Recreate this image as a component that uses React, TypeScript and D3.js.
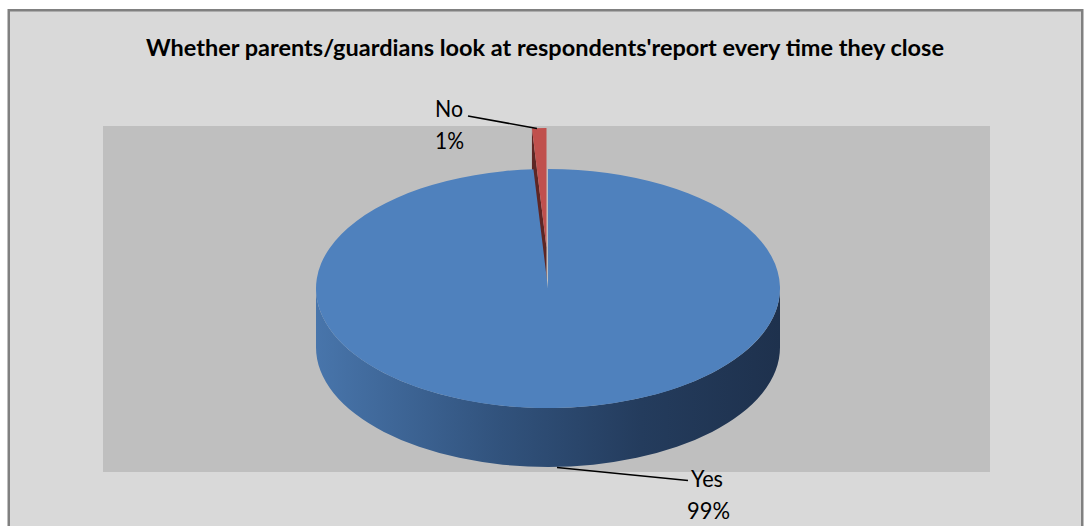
import React from "react";
import * as d3 from "d3";

const categories = ["Yes", "No"];
const values = [99, 1];
const percentLabels = ["99%", "1%"];
const title = "Whether parents/guardians look at respondents'report every time they close";

const W = 1084;
const H = 526;
const cx = 548;
const cy = 288.5;
const rx = 232;
const ry = 119.5;
const depth = 59;

const topColors = ["#4f81bd", "#c0504d"];
const radialSideColors = ["#2f5078", "#5e2624"];

function pt(a: number, dx = 0, dy = 0): [number, number] {
  return [cx + dx + rx * Math.sin(a), cy + dy - ry * Math.cos(a)];
}

function topPath(a0: number, a1: number, dx: number, dy: number) {
  const [x0, y0] = pt(a0, dx, dy);
  const [x1, y1] = pt(a1, dx, dy);
  const large = a1 - a0 > Math.PI ? 1 : 0;
  return `M${cx + dx},${cy + dy}L${x0},${y0}A${rx},${ry} 0 ${large} 1 ${x1},${y1}Z`;
}

function sidePath(a0: number, a1: number, dx: number, dy: number) {
  const s = Math.max(a0, Math.PI / 2);
  const e = Math.min(a1, (3 * Math.PI) / 2);
  if (e <= s) return null;
  const [x0, y0] = pt(s, dx, dy);
  const [x1, y1] = pt(e, dx, dy);
  const large = e - s > Math.PI ? 1 : 0;
  return `M${x0},${y0}A${rx},${ry} 0 ${large} 1 ${x1},${y1}L${x1},${y1 + depth}A${rx},${ry} 0 ${large} 0 ${x0},${y0 + depth}Z`;
}

function radialPath(a: number, dx: number, dy: number) {
  const [x, y] = pt(a, dx, dy);
  return `M${cx + dx},${cy + dy}L${x},${y}L${x},${y + depth}L${cx + dx},${cy + dy + depth}Z`;
}

export default function App() {
  const pie = d3
    .pie<number>()
    .sort(null)
    .startAngle(0)
    .endAngle(2 * Math.PI)(values);

  const explode = [
    [0, 0],
    [-1.5, -41],
  ];

  // draw back slices first (No is at the back)
  const order = [1, 0];

  return (
    <svg width={W} height={H} style={{ display: "block", position: "absolute", left: 0, top: 0 }}>
      <defs>
        <linearGradient id="sideGrad" gradientUnits="userSpaceOnUse" x1={cx - rx} x2={cx + rx} y1={0} y2={0}>
          <stop offset="0" stopColor="#4875ab" />
          <stop offset="0.4" stopColor="#31527c" />
          <stop offset="0.7" stopColor="#243c5d" />
          <stop offset="1" stopColor="#1e314d" />
        </linearGradient>
      </defs>
      <rect x={0} y={0} width={W} height={H} fill="#ffffff" />
      <rect x={8.75} y={10.25} width={1073.5} height={530} fill="#d9d9d9" stroke="#808080" strokeWidth={2.5} />
      <rect x={103} y={126} width={887} height={346} fill="#bfbfbf" />
      <text
        x={545}
        y={55.5}
        textAnchor="middle"
        fontFamily="Lato, 'Open Sans', sans-serif"
        fontWeight="bold"
        fontSize={22}
        textLength={798}
        lengthAdjust="spacingAndGlyphs"
        fill="#000"
      >
        {title}
      </text>
      {order.map((i) => {
        const d = pie[i];
        const [dx, dy] = explode[i];
        const side = sidePath(d.startAngle, d.endAngle, dx, dy);
        return (
          <g key={categories[i]}>
            {i === 1 && <path d={radialPath(d.startAngle, dx, dy)} fill={radialSideColors[i]} />}
            {side && <path d={side} fill="url(#sideGrad)" />}
            <path d={topPath(d.startAngle, d.endAngle, dx, dy)} fill={topColors[i]} />
          </g>
        );
      })}
      {/* leader lines */}
      <line x1={468} y1={116} x2={537} y2={128.5} stroke="#000" strokeWidth={1.6} />
      <line x1={557} y1={467.5} x2={688} y2={480.5} stroke="#000" strokeWidth={1.6} />
      {/* labels */}
      <g fontFamily="Lato, 'Open Sans', sans-serif" fontSize={23} fill="#000" textAnchor="middle">
        <text x={449} y={116.7} textLength={28} lengthAdjust="spacingAndGlyphs">{categories[1]}</text>
        <text x={449.5} y={149} textLength={29} lengthAdjust="spacingAndGlyphs">{percentLabels[1]}</text>
        <text x={707} y={486.7} textLength={32} lengthAdjust="spacingAndGlyphs">{categories[0]}</text>
        <text x={708.5} y={519.3} textLength={43} lengthAdjust="spacingAndGlyphs">{percentLabels[0]}</text>
      </g>
    </svg>
  );
}
